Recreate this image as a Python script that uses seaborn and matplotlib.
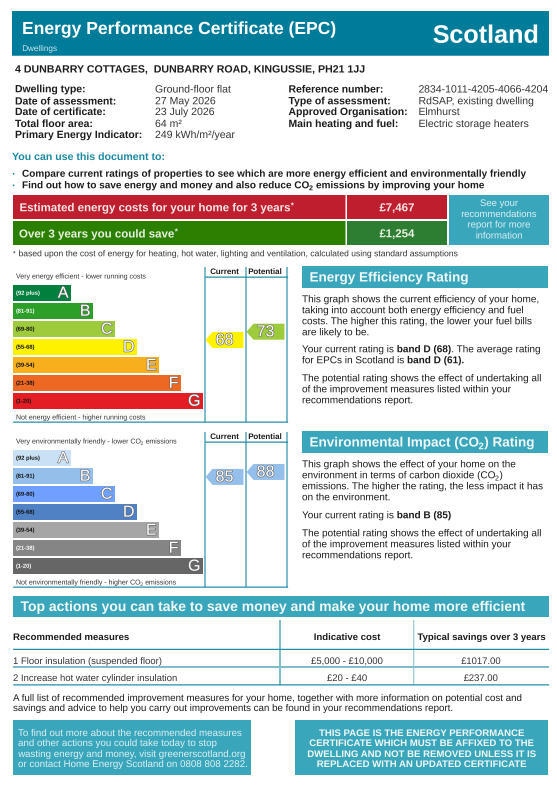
import io
import matplotlib
matplotlib.use('Agg')
import pandas as pd
import seaborn as sns
import matplotlib.pyplot as plt
import matplotlib.patheffects as pe
from PIL import Image

W, H = 557, 787

# chart data
band_labels = ['A', 'B', 'C', 'D', 'E', 'F', 'G']
band_ranges = ['(92 plus)', '(81-91)', '(69-80)', '(55-68)', '(39-54)', '(21-38)', '(1-20)']
band_lengths = [58, 80, 102, 124, 146, 168, 190]
energy_colors = ['#007f3d', '#2c9f29', '#9dcb3b', '#fff200', '#f7af1d', '#ed6823', '#e31d23']
env_colors = ['#c9e0f5', '#95bfeb', '#70a0ff', '#4f81c4', '#a6a6a6', '#858585', '#666666']
energy_text = ['white', 'white', '#111', '#111', '#111', '#111', '#111']
env_text = ['#111', '#111', '#111', '#111', '#111', 'white', 'white']
energy_ratings = [68, 73]
energy_rating_colors = ['#fff200', '#9dcb3b']
env_ratings = [85, 88]
env_rating_colors = ['#95bfeb', '#95bfeb']

# page text
details_left = ['Dwelling type:', 'Date of assessment:', 'Date of certificate:', 'Total floor area:', 'Primary Energy Indicator:']
details_left_val = ['Ground-floor flat', '27 May 2026', '23 July 2026', '64 m²', '249 kWh/m²/year']
details_right = ['Reference number:', 'Type of assessment:', 'Approved Organisation:', 'Main heating and fuel:']
details_right_val = ['2834-1011-4205-4066-4204', 'RdSAP, existing dwelling', 'Elmhurst', 'Electric storage heaters']
table_rows = [('1 Floor insulation (suspended floor)', '£5,000 - £10,000', '£1017.00'),
              ('2 Increase hot water cylinder insulation', '£20 - £40', '£237.00')]

TEAL = '#007c9b'
BLUE = '#3aa6bb'
LIGHT = '#7fbccc'
DARK = '#1a8aa5'
INK = '#1c1c1c'

sns.set_style('white')
plt.rcParams['font.family'] = ['Liberation Sans', 'DejaVu Sans']
plt.rcParams['text.hinting'] = 'no_hinting'

fig = plt.figure(figsize=(W / 72, H / 72), dpi=72)
page = fig.add_axes([0, 0, 1, 1])
page.set_xlim(0, W)
page.set_ylim(H, 0)
page.axis('off')


def box(x0, y0, x1, y1, color):
    page.fill([x0, x1, x1, x0], [y0, y0, y1, y1], color=color, lw=0)


def hline(x0, x1, y, color=DARK, lw=1.2):
    page.plot([x0, x1], [y, y], color=color, lw=lw, solid_capstyle='butt')


def vline(x, y0, y1, color=LIGHT, lw=2):
    page.plot([x, x], [y0, y1], color=color, lw=lw, solid_capstyle='butt')


def txt(x, y, s, size=10, bold=False, color=INK, ha='left'):
    return page.text(x, y, s, fontsize=size, fontweight='bold' if bold else 'normal',
                     color=color, ha=ha, va='baseline')


def runs(x, y, parts, size=10, color=INK):
    # one line made of pieces: (text, bold) or (text, bold, kind)
    # kind is sub, sup or tight, those get no word gap in front
    rend = fig.canvas.get_renderer()
    gap = size * 0.278
    for i, part in enumerate(parts):
        s, bold = part[0], part[1]
        kind = part[2] if len(part) > 2 else None
        if i > 0 and kind is None:
            x += gap
        if kind == 'sub':
            t = txt(x - 0.6, y + size * 0.2, s, size * 0.7, bold, color)
        elif kind == 'sup':
            t = txt(x + 0.3, y - size * 0.3, s, size * 0.7, bold, color)
        else:
            t = txt(x, y, s, size, bold, color)
        x += t.get_window_extent(rend).width


def rating_chart(y_off, top_parts, bottom_parts, colors, label_colors, ratings, rating_colors):
    # vertical rules and headers
    for x in [205, 246, 287]:
        vline(x, 267 + y_off, 422 + y_off)
    hline(205, 288, 277 + y_off)
    hline(13, 288, 422 + y_off)
    txt(224.5, 274 + y_off, 'Current', 8, True, ha='center')
    txt(265, 274 + y_off, 'Potential', 8, True, ha='center')
    runs(16, 278.5 + y_off, top_parts, 7.0, '#333333')
    runs(16, 419.5 + y_off, bottom_parts, 7.0, '#333333')

    # bands
    df = pd.DataFrame({'band': band_labels, 'length': band_lengths})
    ax = fig.add_axes([13 / W, 1 - (410 + y_off) / H, 192 / W, 126 / H])
    sns.barplot(data=df, x='length', y='band', hue='band', palette=colors, orient='h',
                width=16 / 18, saturation=1, legend=False, linewidth=0, ax=ax)
    ax.set_xlim(0, 192)
    ax.set_ylim(6.5, -0.5)
    ax.axis('off')
    for i, (letter, rng, length) in enumerate(zip(band_labels, band_ranges, band_lengths)):
        ax.text(3, i + 0.02, rng, fontsize=5.8, fontweight='bold', color=label_colors[i], va='center')
        ax.text(length - 2.5, i + 0.03, letter, fontsize=16, color='white', ha='right', va='center',
                path_effects=[pe.withStroke(linewidth=1.2, foreground='#666666')])

    # rating arrows, y axis is the rating itself
    rx = fig.add_axes([205 / W, 1 - (422 + y_off) / H, 83 / W, 155 / H])
    rx.set_xlim(205, 288)
    rx.set_ylim(18.3, 112.2)
    rx.axis('off')
    half = 8 / 1.65
    for r, col, tip in zip(ratings, rating_colors, [205.5, 246.5]):
        rx.fill([tip, tip + 7, tip + 38, tip + 38, tip + 7], [r, r + half, r + half, r - half, r - half],
                color=col, lw=0)
        rx.text(tip + 19, r - 0.3, str(r), fontsize=16, color='white', ha='center', va='center',
                path_effects=[pe.withStroke(linewidth=1.2, foreground='#666666')])


# header
box(12, 11, 549, 55.7, TEAL)
txt(22, 34, 'Energy Performance Certificate (EPC)', 17.5, True, 'white')
txt(22, 51, 'Dwellings', 8.2, color='#cfe6ec')
txt(432.5, 42.7, 'Scotland', 25.2, True, 'white')

txt(15, 72.3, '4 DUNBARRY COTTAGES,  DUNBARRY ROAD, KINGUSSIE, PH21 1JJ', 10.6, True)
rows_y = [92.3, 104.3, 115, 127, 138]
for y, a, b in zip(rows_y, details_left, details_left_val):
    txt(15, y, a, 10.4, True)
    txt(155, y, b, 10.5, color='#333333')
for y, a, b in zip(rows_y, details_right, details_right_val):
    txt(288.5, y, a, 10.4, True)
    txt(418.5, y, b, 10.5, color='#333333')

txt(12, 160, 'You can use this document to:', 10.55, True, DARK)
txt(12.5, 176, '•', 6.5, color=DARK)
txt(12.5, 187.5, '•', 6.5, color=DARK)
txt(22, 177, 'Compare current ratings of properties to see which are more energy efficient and environmentally friendly', 10, True)
runs(22, 188.3, [('Find out how to save energy and money and also reduce CO', True), ('2', True, 'sub'),
                 ('emissions by improving your home', True)], 10)

# cost boxes
box(13, 195, 345.5, 219, '#be1e2d')
box(347, 195, 447, 219, '#be1e2d')
box(13, 221, 345.5, 245, '#2b8000')
box(347, 221, 447, 245, '#2d7d32')
box(449, 195, 549, 245, BLUE)
runs(19.5, 211.3, [('Estimated energy costs for your home for 3 years', True), ('*', True, 'sup')], 11.5, '#f5e6e6')
runs(19, 237.3, [('Over 3 years you could save', True), ('*', True, 'sup')], 11.5, '#e8f2e0')
txt(397, 211.3, '£7,467', 11.5, True, '#f5e6e6', 'center')
txt(397, 237.3, '£1,254', 11.5, True, '#e8f2e0', 'center')
for y, s in zip([206, 217, 227.5, 238.5], ['See your', 'recommendations', 'report for more', 'information']):
    txt(499, y, s, 9.5, color='#dcf0f4', ha='center')
txt(13, 255.5, '*', 7, color='#333333')
txt(18.5, 256.3, 'based upon the cost of energy for heating, hot water, lighting and ventilation, calculated using standard assumptions', 8.55, color='#333333')

# rating charts
rating_chart(0, [('Very energy efficient - lower running costs', False)],
             [('Not energy efficient - higher running costs', False)],
             energy_colors, energy_text, energy_ratings, energy_rating_colors)
rating_chart(165, [('Very environmentally friendly - lower CO', False), ('2', False, 'sub'), ('emissions', False)],
             [('Not environmentally friendly - higher CO', False), ('2', False, 'sub'), ('emissions', False)],
             env_colors, env_text, env_ratings, env_rating_colors)

# right hand panels
box(302, 266, 548, 288, BLUE)
txt(309.5, 281.5, 'Energy Efficiency Rating', 13.5, True, '#f0f8fa')
for y, s in zip([302.5, 313.5, 324.5, 335.5],
                ['This graph shows the current efficiency of your home,',
                 'taking into account both energy efficiency and fuel',
                 'costs. The higher this rating, the lower your fuel bills',
                 'are likely to be.']):
    txt(302, y, s, 10)
runs(302, 352.5, [('Your current rating is', False), ('band D (68)', True), ('. The average rating', False, 'tight')])
runs(302, 363.5, [('for EPCs in Scotland is', False), ('band D (61).', True)])
for y, s in zip([381.5, 392.5, 403.5],
                ['The potential rating shows the effect of undertaking all',
                 'of the improvement measures listed within your',
                 'recommendations report.']):
    txt(302, y, s, 10)

box(302, 431, 548, 453, BLUE)
runs(309.5, 446.5, [('Environmental Impact (CO', True), ('2', True, 'sub'), (') Rating', True, 'tight')], 13.5, '#f0f8fa')
txt(302, 467.5, 'This graph shows the effect of your home on the', 10)
runs(302, 478.5, [('environment in terms of carbon dioxide (CO', False), ('2', False, 'sub'), (')', False, 'tight')])
txt(302, 489.5, 'emissions. The higher the rating, the less impact it has', 10)
txt(302, 500.5, 'on the environment.', 10)
runs(302, 518.5, [('Your current rating is', False), ('band B (85)', True)])
for y, s in zip([536.5, 547.5, 558.5],
                ['The potential rating shows the effect of undertaking all',
                 'of the improvement measures listed within your',
                 'recommendations report.']):
    txt(302, y, s, 10)

# actions table
box(13, 596, 549, 617, BLUE)
txt(20.5, 611, 'Top actions you can take to save money and make your home more efficient', 13.95, True, '#f0f8fa')
vline(280, 620, 685)
vline(413.7, 620, 685, lw=1)
txt(13, 640, 'Recommended measures', 9.6, True)
txt(347, 640, 'Indicative cost', 9.6, True, ha='center')
txt(481.5, 640, 'Typical savings over 3 years', 9.5, True, ha='center')
hline(13, 549, 649.3)
hline(13, 549, 667, LIGHT, 2)
hline(13, 549, 684.7)
for y, (a, b, c) in zip([664, 681], table_rows):
    txt(13, y, a, 9.5, color='#333333')
    txt(347, y, b, 9.5, color='#333333', ha='center')
    txt(481, y, c, 9.5, color='#333333', ha='center')

txt(13, 701, 'A full list of recommended improvement measures for your home, together with more information on potential cost and', 9.75)
txt(13, 711, 'savings and advice to help you carry out improvements can be found in your recommendations report.', 9.75)

# bottom boxes
box(13, 720, 251, 775, BLUE)
box(295, 720, 548, 775, BLUE)
box_y = [736, 746, 757, 767]
for y, s in zip(box_y, ['To find out more about the recommended measures',
                        'and other actions you could take today to stop',
                        'wasting energy and money, visit greenerscotland.org',
                        'or contact Home Energy Scotland on 0808 808 2282.']):
    txt(18, y, s, 9.75, color='#dcf0f4')
for y, s in zip(box_y, ['THIS PAGE IS THE ENERGY PERFORMANCE',
                        'CERTIFICATE WHICH MUST BE AFFIXED TO THE',
                        'DWELLING AND NOT BE REMOVED UNLESS IT IS',
                        'REPLACED WITH AN UPDATED CERTIFICATE']):
    txt(421.7, y, s, 9.6, True, '#f0f8fa', 'center')

# draw big and shrink, small text comes out evenly spaced that way
buf = io.BytesIO()
fig.savefig(buf, format='png', dpi=288)
buf.seek(0)
Image.open(buf).convert('RGB').reduce(4).save('out.png')
